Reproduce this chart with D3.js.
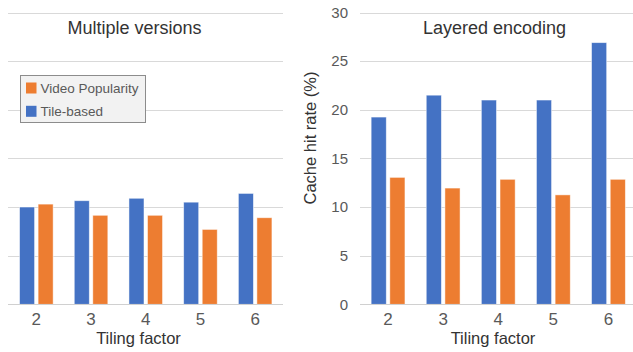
<!DOCTYPE html>
<html>
<head>
<meta charset="utf-8">
<script src="https://cdn.jsdelivr.net/npm/d3@7/dist/d3.min.js"></script>
<style>
  html, body { margin: 0; padding: 0; background: #fff; }
  svg { display: block; font-family: "Liberation Sans", Arial, sans-serif; }
</style>
</head>
<body>
<svg id="chart" width="633" height="352"></svg>
<script>
// Tiling factors on the x axis
const tilingFactors = ["2", "3", "4", "5", "6"];
// Cache hit rate (%) — multiple versions
const multiTileBased = [10.0, 10.65, 10.9, 10.5, 11.4];
const multiPopularity = [10.3, 9.15, 9.15, 7.7, 8.9];
// Cache hit rate (%) — layered encoding
const layeredTileBased = [19.25, 21.5, 21.0, 21.0, 26.9];
const layeredPopularity = [13.05, 11.95, 12.85, 11.25, 12.85];
// Shared y ticks
const yTicks = [0, 5, 10, 15, 20, 25, 30];
const seriesNames = ["Tile-based", "Video Popularity"];
const colors = { "Tile-based": "#4472C4", "Video Popularity": "#ED7D31" };

const svg = d3.select("#chart");
const plotTop = 12.5, plotBottom = 304.3;

function panel(opts) {
  const g = svg.append("g");
  const x = d3.scaleBand().domain(tilingFactors).range(opts.bandRange).paddingInner(0).paddingOuter(0);
  const inner = d3.scaleBand().domain(seriesNames).range([0, x.bandwidth()])
    .paddingInner(0.19).paddingOuter(0.57);
  const y = d3.scaleLinear().domain([0, 30]).range([plotBottom, plotTop]);

  // horizontal gridlines
  g.append("g").selectAll("line").data(yTicks).join("line")
    .attr("x1", opts.x0).attr("x2", opts.x1)
    .attr("y1", d => Math.round(y(d)) + 0.5).attr("y2", d => Math.round(y(d)) + 0.5)
    .attr("stroke", "#d9d9d9").attr("stroke-width", 1);

  // bars
  const rows = tilingFactors.map((f, i) => ({ f, vals: [
    { s: "Tile-based", v: opts.tile[i] },
    { s: "Video Popularity", v: opts.pop[i] }
  ]}));
  g.append("g").selectAll("g").data(rows).join("g")
    .attr("transform", d => `translate(${x(d.f)},0)`)
    .selectAll("rect").data(d => d.vals).join("rect")
    .attr("x", d => inner(d.s))
    .attr("width", inner.bandwidth())
    .attr("y", d => y(d.v))
    .attr("height", d => y(0) - y(d.v))
    .attr("fill", d => colors[d.s])
    .attr("stroke", "#ffffff").attr("stroke-opacity", 0.6).attr("stroke-width", 0.8);

  // baseline
  g.append("line").attr("x1", opts.x0).attr("x2", opts.x1)
    .attr("y1", Math.round(y(0)) + 0.5).attr("y2", Math.round(y(0)) + 0.5)
    .attr("stroke", "#d0d0d0").attr("stroke-width", 1.2);

  // x axis
  const xAxis = d3.axisBottom(x).tickSize(0).tickPadding(8.5);
  const xa = g.append("g").attr("transform", `translate(0,${y(0)})`).call(xAxis);
  xa.select(".domain").remove();
  xa.selectAll("text").attr("font-size", 17).attr("fill", "#595959")
    .attr("font-family", "'Liberation Sans', Arial, sans-serif");

  // y axis labels
  if (opts.yLabels) {
    const yAxis = d3.axisLeft(y).tickValues(yTicks).tickSize(0).tickPadding(0);
    const ya = g.append("g").attr("transform", `translate(${opts.x0 - 12},0)`).call(yAxis);
    ya.select(".domain").remove();
    ya.selectAll("text").attr("font-size", 15).attr("fill", "#595959")
      .attr("font-family", "'Liberation Sans', Arial, sans-serif");
  }

  // axis title
  g.append("text").attr("x", opts.axisTitleX).attr("y", 344)
    .attr("text-anchor", "middle").attr("font-size", 16.5).attr("fill", "#333")
    .text("Tiling factor");

  // chart title
  g.append("text").attr("x", opts.titleX).attr("y", 33.5)
    .attr("text-anchor", "middle").attr("font-size", 18).attr("fill", "#333")
    .text(opts.title);
  return { x, y };
}

panel({ x0: 8, x1: 283, bandRange: [9, 282.5], tile: multiTileBased, pop: multiPopularity,
  title: "Multiple versions", titleX: 134.5, axisTitleX: 138.5, yLabels: false });
panel({ x0: 360, x1: 633, bandRange: [360.5, 636], tile: layeredTileBased, pop: layeredPopularity,
  title: "Layered encoding", titleX: 494.5, axisTitleX: 493, yLabels: true });

// y axis title
svg.append("text")
  .attr("transform", "translate(316,138) rotate(-90)")
  .attr("text-anchor", "middle").attr("font-size", 16.5).attr("fill", "#333")
  .text("Cache hit rate (%)");

// legend
const legend = svg.append("g");
legend.append("rect").attr("x", 20.5).attr("y", 75.5).attr("width", 125).attr("height", 47)
  .attr("fill", "#f2f2f2").attr("stroke", "#8c8c8c").attr("stroke-width", 1);
const legendItems = ["Video Popularity", "Tile-based"];
const li = legend.selectAll("g").data(legendItems).join("g")
  .attr("transform", (d, i) => `translate(26,${82.5 + i * 23.3})`);
li.append("rect").attr("width", 10.5).attr("height", 11).attr("fill", d => colors[d]);
li.append("text").attr("x", 14.5).attr("y", 10.5).attr("font-size", 13.5).attr("fill", "#595959").text(d => d);
</script>
</body>
</html>
